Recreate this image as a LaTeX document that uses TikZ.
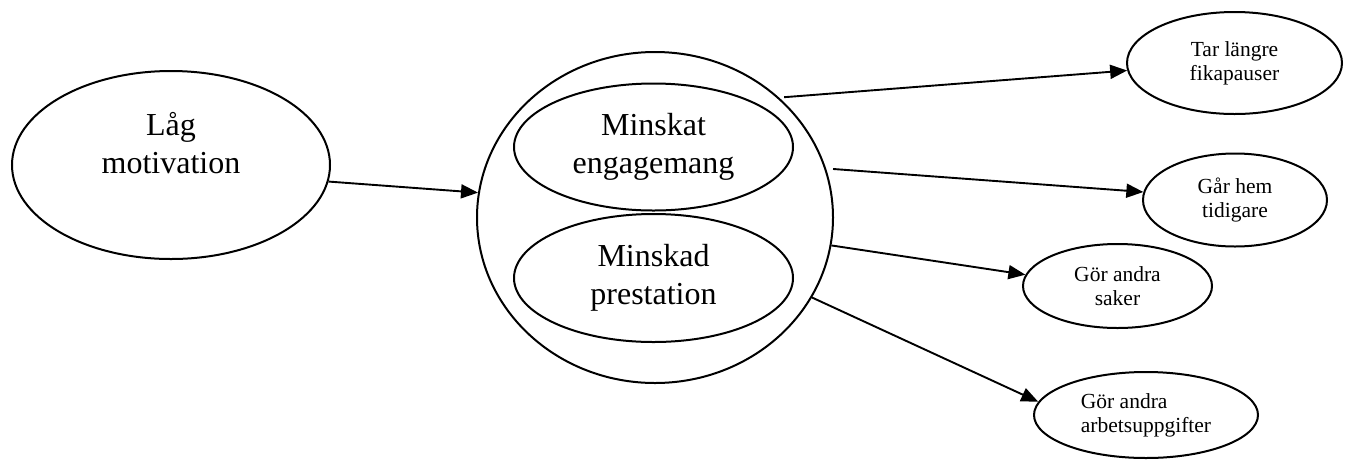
\documentclass[tikz,border=0pt]{standalone}
\usepackage{fontspec}
\setmainfont{Liberation Serif}
\usetikzlibrary{shapes.geometric,arrows.meta}
\begin{document}
\begin{tikzpicture}
[x=1pt,y=-1pt,
  nodedecorate/.style={shape=ellipse,draw,line width=2pt,inner sep=0pt},%
  linedecorate/.style={-{Triangle[length=17pt,width=14pt]},line width=1.9pt},%
  bigtext/.style={font=\fontsize{32}{38}\selectfont,align=center},%
  smalltext/.style={font=\fontsize{21.5}{24}\selectfont}]
\useasboundingbox (0,0) rectangle (1349,459);
%% cause
\node (lag) at (171,165) [nodedecorate,minimum width=318pt,minimum height=188pt] {};
\node (lagtext) at (171,143) [bigtext,inner sep=0pt] {Låg\\motivation};
%% effects
\node (helhet) at (655,217.5) [nodedecorate,minimum width=356pt,minimum height=331pt] {};
\node (engagemang) at (653.5,147) [nodedecorate,bigtext,minimum width=279pt,minimum height=127pt] {Minskat\\engagemang};
\node (prestation) at (653.5,278) [nodedecorate,bigtext,minimum width=279pt,minimum height=128pt] {Minskad\\prestation};
%% outcomes
\foreach \nodename/\x/\y/\w/\h/\al/\txt in {fika/1234.5/63/215/102/center/{Tar längre\\fikapauser},
  hem/1235/200/184/93/center/{Går hem\\tidigare},
  saker/1117.5/286/189/84/center/{Gör andra\\saker},
  uppgifter/1146/415/224/86/left/{Gör andra\\arbetsuppgifter}}
{
  \node (\nodename) at (\x,\y) [nodedecorate,smalltext,align=\al,minimum width=\w pt,minimum height=\h pt] {\txt};
}
%% arrows
\draw [linedecorate] (lag.-6) -- (helhet.172);
\path
\foreach \startangle/\gap/\endnode/\endangle in {44/5/fika/184, 16/7/hem/175,
  -9/0/saker/173, -27/0/uppgifter/173}
{
  (helhet.\startangle) edge[linedecorate,shorten <=\gap pt] (\endnode.\endangle)
};
\end{tikzpicture}
\end{document}
